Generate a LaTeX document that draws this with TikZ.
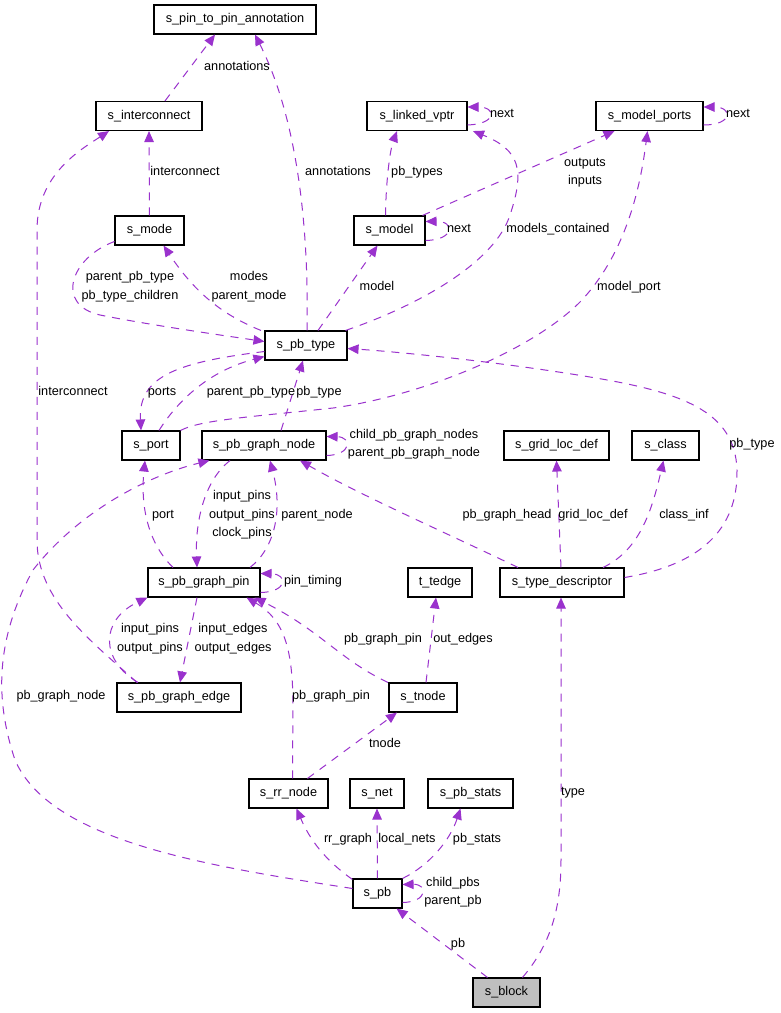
\documentclass[tikz,border=0pt]{standalone}
\usepackage{fontspec}
\setmainfont{Liberation Sans}
\usetikzlibrary{arrows.meta,calc}
\definecolor{edgec}{HTML}{9A32CD}
\definecolor{blockc}{HTML}{BFBFBF}
\begin{document}
\begin{tikzpicture}[x=1pt,y=-1pt,
  cls/.style={draw=black,line width=1.1pt,fill=white,inner sep=0pt,minimum height=29pt,text height=9pt,text depth=2.7pt,font=\fontsize{12.7}{15}\selectfont},
  rel/.style={draw=edgec,line width=1pt,dash pattern=on 8pt off 7pt,-{Triangle[length=11pt,width=9.5pt,fill=edgec]}},
  lbl/.style={inner sep=0pt,text height=9pt,text depth=2.7pt,font=\fontsize{12.7}{15}\selectfont}]
\useasboundingbox[fill=white] (0,0) rectangle (781,1013);

% classes
\node[cls,minimum width=162pt] (p2p) at (235,19.5) {s\_pin\_to\_pin\_annotation};
\node[cls,minimum width=106pt] (ic) at (149,116) {s\_interconnect};
\node[cls,minimum width=69pt] (mode) at (149.5,230.5) {s\_mode};
\node[cls,minimum width=100pt] (lv) at (417,116) {s\_linked\_vptr};
\node[cls,minimum width=107pt] (mp) at (649.5,116) {s\_model\_ports};
\node[cls,minimum width=71pt] (model) at (389.5,230.5) {s\_model};
\node[cls,minimum width=82pt] (pbt) at (306,345.5) {s\_pb\_type};
\node[cls,minimum width=58pt] (port) at (151,445.5) {s\_port};
\node[cls,minimum width=124pt] (gn) at (264,445.5) {s\_pb\_graph\_node};
\node[cls,minimum width=105pt] (grid) at (556.5,445.5) {s\_grid\_loc\_def};
\node[cls,minimum width=67pt] (cl) at (665.5,445.5) {s\_class};
\node[cls,minimum width=112pt] (gp) at (204,582.5) {s\_pb\_graph\_pin};
\node[cls,minimum width=64pt] (te) at (440,582.5) {t\_tedge};
\node[cls,minimum width=124pt] (td) at (562,582.5) {s\_type\_descriptor};
\node[cls,minimum width=124pt] (ge) at (179,697.5) {s\_pb\_graph\_edge};
\node[cls,minimum width=68pt] (tn) at (423,697.5) {s\_tnode};
\node[cls,minimum width=79pt] (rr) at (288.5,793.5) {s\_rr\_node};
\node[cls,minimum width=54pt] (net) at (377,793.5) {s\_net};
\node[cls,minimum width=85pt] (ps) at (470.5,793.5) {s\_pb\_stats};
\node[cls,minimum width=49pt] (pb) at (377.5,893.5) {s\_pb};
\node[cls,minimum width=67pt,fill=blockc] (blk) at (506.5,992.5) {s\_block};

% relations
\draw[rel] ($(ic.north)+(16,0)$) -- ($(p2p.south)+(-20,0)$);
\draw[rel] ($(pbt.north)+(1,0)$) .. controls (309,230) and (298,120) .. ($(p2p.south)+(20,0)$);
\draw[rel] (mode.north) -- (ic.south);
\draw[rel] ($(ge.north)+(-42,0)$) .. controls (90,640) and (37,600) .. (37,540) -- (37,230) .. controls (37,175) and (80,150) .. ($(ic.south)+(-40,0)$);
\draw[rel] ($(pbt.north)+(-45,0)$) .. controls (215,312) and (190,285) .. ($(mode.south)+(14,0)$);
\draw[rel] ($(mode.west)+(0,11)$) .. controls (70,258) and (55,305) .. (100,315) .. controls (150,325) and (220,335) .. ($(pbt.west)+(0,-4)$);
\draw[rel] ($(model.north)+(-4,0)$) .. controls (386,180) and (390,150) .. ($(lv.south)+(-20,0)$);
\draw[rel] ($(lv.east)+(0,9)$) .. controls (497,124) and (497,107) .. ($(lv.east)+(0,-9)$);
\draw[rel] ($(model.east)+(0,10)$) .. controls (455,240) and (455,221) .. ($(model.east)+(0,-9)$);
\draw[rel] ($(mp.east)+(0,9)$) .. controls (733,125) and (733,107) .. ($(mp.east)+(0,-9)$);
\draw[rel] ($(model.north)+(33,0)$) -- ($(mp.south)+(-35,0)$);
\draw[rel] ($(pbt.north)+(12,0)$) -- ($(model.south)+(-12,0)$);
\draw[rel] ($(pbt.north east)+(-2,0)$) .. controls (420,305) and (495,262) .. (510,215) .. controls (525,170) and (520,150) .. ($(lv.south)+(56,0)$);
\draw[rel] (port.north east) .. controls (200,420) and (250,417) .. (333,408) .. controls (420,396) and (530,352) .. (580,302) .. controls (625,255) and (640,190) .. ($(mp.south)+(-2,0)$);
\draw[rel] ($(td.east)+(0,-5)$) .. controls (700,565) and (738,530) .. (737,470) .. controls (735,410) and (680,392) .. (590,377) .. controls (500,362) and (400,352) .. ($(pbt.east)+(0,3)$);
\draw[rel] ($(pbt.west)+(0,6)$) .. controls (180,362) and (138,375) .. ($(port.north)+(-10,0)$);
\draw[rel] ($(port.north)+(8,0)$) .. controls (175,405) and (205,372) .. ($(pbt.west)+(0,11)$);
\draw[rel] ($(gn.north)+(17,0)$) -- ($(pbt.south)+(-3,0)$);
\draw[rel] ($(gn.east)+(0,10)$) .. controls (352,455) and (352,437) .. ($(gn.east)+(0,-9)$);
\draw[rel] ($(gp.north)+(-31,0)$) .. controls (150,545) and (140,510) .. ($(port.south)+(-6,0)$);
\draw[rel] ($(gn.south)+(-34,0)$) .. controls (205,480) and (195,520) .. ($(gp.north)+(-7,0)$);
\draw[rel] ($(gp.north)+(46,0)$) .. controls (275,548) and (283,510) .. ($(gn.south)+(6,0)$);
\draw[rel] ($(gp.east)+(0,10)$) .. controls (288,592) and (288,574) .. ($(gp.east)+(0,-9)$);
\draw[rel] ($(td.north)+(-44,0)$) .. controls (440,530) and (360,495) .. ($(gn.south)+(36,0)$);
\draw[rel] ($(td.north)+(-1,0)$) -- (grid.south);
\draw[rel] ($(td.north)+(41,0)$) .. controls (640,550) and (652,510) .. ($(cl.south)+(-2,0)$);
\draw[rel] ($(ge.north)+(-41,0)$) .. controls (100,660) and (100,620) .. (gp.south west);
\draw[rel] ($(gp.south)+(-7,0)$) -- ($(ge.north)+(1,0)$);
\draw[rel] ($(tn.north)+(-35,0)$) .. controls (340,660) and (320,630) .. ($(gp.south east)+(-6,0)$);
\draw[rel] ($(tn.north)+(3,0)$) -- ($(te.south)+(-4,0)$);
\draw[rel] ($(rr.north)+(4,0)$) -- (293,700) .. controls (292,650) and (285,620) .. ($(gp.south east)+(-14,0)$);
\draw[rel] ($(rr.north)+(19,0)$) -- ($(tn.south)+(-26,0)$);
\draw[rel] ($(pb.west)+(0,-5)$) .. controls (200,865) and (50,840) .. (15,760) .. controls (-5,700) and (-5,640) .. (33,570) .. controls (80,510) and (150,475) .. ($(gn.south west)+(8,0)$);
\draw[rel] ($(pb.north west)+(0,1)$) .. controls (325,860) and (310,840) .. ($(rr.south)+(8,0)$);
\draw[rel] (pb.north) -- (net.south);
\draw[rel] (pb.north east) .. controls (430,865) and (450,840) .. ($(ps.south)+(-10,0)$);
\draw[rel] ($(pb.east)+(0,9)$) .. controls (428,902) and (428,884) .. ($(pb.east)+(0,-9)$);
\draw[rel] ($(blk.north)+(-19,0)$) -- ($(pb.south east)+(-6,0)$);
\draw[rel] ($(blk.north)+(16,0)$) .. controls (550,945) and (561,910) .. (561,860) -- ($(td.south)+(-1,0)$);

% labels
\node[lbl] (l1) at (237,67) {annotations};
\node[lbl] (l2) at (185,172) {interconnect};
\node[lbl] (l3) at (338,172) {annotations};
\node[lbl] (l4) at (417,172) {pb\_types};
\node[lbl] (l5) at (502,114) {next};
\node[lbl] (l6) at (738,114) {next};
\node[lbl] (l7) at (585,163) {outputs};
\node[lbl] (l8) at (585,181) {inputs};
\node[lbl] (l9) at (459,229) {next};
\node[lbl] (l10) at (558,229) {models\_contained};
\node[lbl] (l11) at (130,277) {parent\_pb\_type};
\node[lbl] (l12) at (130,296) {pb\_type\_children};
\node[lbl] (l13) at (249,277) {modes};
\node[lbl] (l14) at (249,296) {parent\_mode};
\node[lbl] (l15) at (377,287) {model};
\node[lbl] (l16) at (629,287) {model\_port};
\node[lbl] (l17) at (73,392) {interconnect};
\node[lbl] (l18) at (162,392) {ports};
\node[lbl] (l19) at (251,392) {parent\_pb\_type};
\node[lbl] (l20) at (319,392) {pb\_type};
\node[lbl] (l21) at (414,435) {child\_pb\_graph\_nodes};
\node[lbl] (l22) at (414,453) {parent\_pb\_graph\_node};
\node[lbl] (l23) at (752,444) {pb\_type};
\node[lbl] (l24) at (242,496) {input\_pins};
\node[lbl] (l25) at (242,515) {output\_pins};
\node[lbl] (l26) at (242,533) {clock\_pins};
\node[lbl] (l27) at (163,515) {port};
\node[lbl] (l28) at (317,515) {parent\_node};
\node[lbl] (l29) at (507,515) {pb\_graph\_head};
\node[lbl] (l30) at (593,515) {grid\_loc\_def};
\node[lbl] (l31) at (684,515) {class\_inf};
\node[lbl] (l32) at (313,581) {pin\_timing};
\node[lbl] (l33) at (150,629) {input\_pins};
\node[lbl] (l34) at (150,648) {output\_pins};
\node[lbl] (l35) at (233,629) {input\_edges};
\node[lbl] (l36) at (233,648) {output\_edges};
\node[lbl] (l37) at (383,639) {pb\_graph\_pin};
\node[lbl] (l38) at (463,639) {out\_edges};
\node[lbl] (l39) at (61,696) {pb\_graph\_node};
\node[lbl] (l40) at (331,696) {pb\_graph\_pin};
\node[lbl] (l41) at (385,744) {tnode};
\node[lbl] (l42) at (573,792) {type};
\node[lbl] (l43) at (348,839) {rr\_graph};
\node[lbl] (l44) at (407,839) {local\_nets};
\node[lbl] (l45) at (477,839) {pb\_stats};
\node[lbl] (l46) at (453,883) {child\_pbs};
\node[lbl] (l47) at (453,901) {parent\_pb};
\node[lbl] (l48) at (458,944) {pb};
\end{tikzpicture}
\end{document}
